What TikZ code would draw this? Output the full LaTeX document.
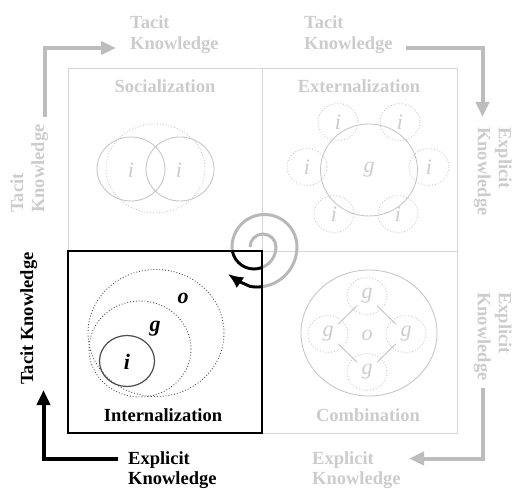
\documentclass[tikz,border=0pt]{standalone}
\usepackage{fontspec}
\setmainfont{Liberation Serif}
\usetikzlibrary{arrows.meta,calc}

\definecolor{boxline}{gray}{0.84}
\definecolor{softtext}{gray}{0.80}
\definecolor{softring}{gray}{0.78}
\definecolor{softdot}{gray}{0.78}
\definecolor{softarrow}{gray}{0.74}
\definecolor{spiralgray}{gray}{0.72}
\definecolor{darkring}{gray}{0.30}

% spiral of alternating half circles, ending in an arrow
\def\kspiral{(250,247) arc[start angle=180,end angle=360,radius=13]
  arc[start angle=0,end angle=180,radius=22]
  arc[start angle=180,end angle=360,radius=32.5]
  arc[start angle=0,end angle=100,radius=40]
  .. controls (238,281) .. (228,274)}

\begin{document}
\begin{tikzpicture}[x=1bp,y=-1bp,
  heading/.style={font=\fontsize{18.5bp}{21bp}\selectfont\bfseries, inner sep=0pt},
  axislabel/.style={heading, align=left, anchor=north west},
  lowlabel/.style={axislabel, font=\fontsize{18.5bp}{20bp}\selectfont\bfseries},
  letter/.style={font=\fontsize{22bp}{24bp}\selectfont\itshape, inner sep=0pt, text=softtext},
  boldletter/.style={font=\fontsize{22bp}{24bp}\selectfont\bfseries\itshape, inner sep=0pt},
  ring/.style={draw=softring, line width=0.9bp},
  dotring/.style={draw=softdot, line width=0.9bp, dash pattern=on 0.9bp off 2bp},
  darkdot/.style={draw=darkring, line width=0.9bp, dash pattern=on 0.9bp off 2bp},
  darksolid/.style={draw=darkring, line width=1.2bp},
  flow/.style={line width=4bp, line join=miter, -{Triangle[length=15bp,width=13bp]}},
]
\useasboundingbox (0,0) rectangle (514,489);

% quadrant grid
\draw[boxline, line width=1bp] (68,69) rectangle (457,433);
\draw[boxline, line width=1bp] (262,69) -- (262,433) (68,251) -- (457,251);

% quadrant titles
\node[heading, text=softtext, anchor=base] (soc) at (165,93) {Socialization};
\node[heading, text=softtext, anchor=base] (ext) at (359,93) {Externalization};
\node[heading, text=softtext, anchor=base] (com) at (368,421) {Combination};
\node[heading, anchor=base] (int) at (163,421.5) {Internalization};

% socialization: two individuals
\draw[dotring] (155.5,168.5) ellipse[x radius=49.5, y radius=44.5];
\draw[ring] (131,169) ellipse[x radius=34, y radius=32];
\draw[ring] (180,169) ellipse[x radius=34, y radius=32];
\node[letter] (si1) at (131,170) {i};
\node[letter] (si2) at (179,170) {i};

% externalization: group surrounded by individuals
\draw[ring] (369,170) ellipse[x radius=48.5, y radius=46];
\node[letter] (eg) at (369,170) {g};
\foreach \px/\py [count=\k] in {338/122, 400/122, 307/167, 429/167, 334/214, 398/214}{
  \draw[dotring] (\px,\py) ellipse[x radius=20, y radius=18.5];
  \node[letter] (ei\k) at (\px,\py) {i};
}

% combination: groups within an organisation
\draw[ring] (369,333) ellipse[x radius=68, y radius=63];
\foreach \px/\py/\nm in {367/296/ct, 328/334/cl, 406/334/cr, 367/372/cb}{
  \draw[dotring] (\px,\py) ellipse[x radius=20, y radius=18.5];
  \node[letter] (\nm) at (\px,\py) {g};
}
\node[letter] (co) at (367,335) {o};
\draw[softring, line width=1bp, shorten <=14bp, shorten >=14bp] (ct.center) -- (cl.center);
\draw[softring, line width=1bp, shorten <=14bp, shorten >=14bp] (ct.center) -- (cr.center);
\draw[softring, line width=1bp, shorten <=14bp, shorten >=14bp] (cl.center) -- (cb.center);
\draw[softring, line width=1bp, shorten <=14bp, shorten >=14bp] (cr.center) -- (cb.center);

% internalization: individual inside group inside organisation
\draw[darkdot] (156,333) ellipse[x radius=68, y radius=63.5];
\draw[darkdot] (140,349) ellipse[x radius=51, y radius=48];
\draw[darksolid] (127,361) ellipse[x radius=27.5, y radius=25.5];
\node[boldletter] (io) at (183,298) {o};
\node[boldletter] (ig) at (155,329) {g};
\node[boldletter] (ii) at (127,362) {i};

% knowledge spiral, black where it runs through the internalization box
\draw[spiralgray, line width=3bp, -{Latex[length=15bp,width=13bp]}] \kspiral;
\begin{scope}
  \clip (68,251) rectangle (262,433);
  \draw[black, line width=2.8bp, -{Latex[length=15bp,width=13bp]}] \kspiral;
\end{scope}
\draw[black, line width=1.1bp] (68,251) rectangle (262,433);

% conversion arrows around the square
\coordinate (tlA) at (45,117);  \coordinate (tlB) at (45,48);  \coordinate (tlC) at (116,48);
\coordinate (trA) at (406,48.5); \coordinate (trB) at (482.5,48.5); \coordinate (trC) at (482.5,117);
\coordinate (brA) at (482.5,388); \coordinate (brB) at (482.5,458.5); \coordinate (brC) at (409,458.5);
\coordinate (blA) at (118,458.5); \coordinate (blB) at (43.5,458.5); \coordinate (blC) at (43.5,390);
\draw[flow, softarrow] (tlA) -- (tlB) -- (tlC);
\draw[flow, softarrow] (trA) -- (trB) -- (trC);
\draw[flow, softarrow] (brA) -- (brB) -- (brC);
\draw[flow, black] (blA) -- (blB) -- (blC);

% knowledge labels
\node[axislabel, text=softtext] (tk1) at (130,15) {Tacit\\Knowledge};
\node[axislabel, text=softtext] (tk2) at (304,15) {Tacit\\Knowledge};
\node[axislabel, text=softtext, rotate=90] (tk3) at (10,213) {Tacit\\Knowledge};
\node[axislabel, text=softtext, rotate=-90] (ek1) at (512,127) {Explicit\\Knowledge};
\node[axislabel, text=softtext, rotate=-90] (ek2) at (512,292) {Explicit\\Knowledge};
\node[lowlabel, text=softtext] (ek3) at (312,451.5) {Explicit\\Knowledge};
\node[lowlabel] (ek4) at (128,451.5) {Explicit\\Knowledge};
\node[heading, rotate=90, anchor=north west] (tk4) at (20,385) {Tacit Knowledge};
\end{tikzpicture}
\end{document}
